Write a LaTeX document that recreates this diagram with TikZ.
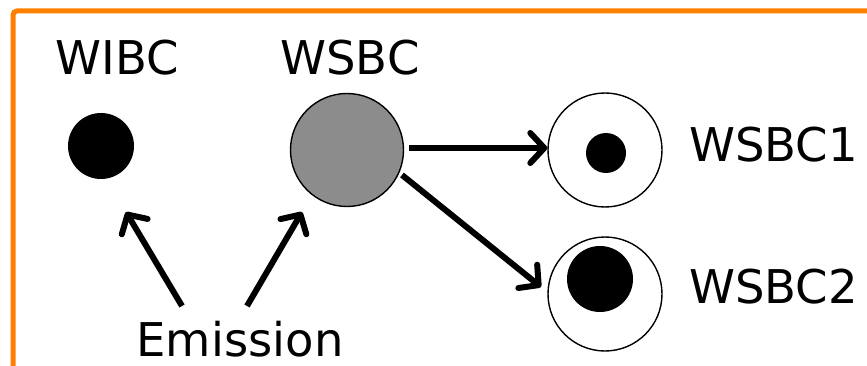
\documentclass[tikz,border=0pt]{standalone}
\usepackage{fontspec}
\setmainfont{DejaVu Sans}
\usetikzlibrary{arrows.meta}
\definecolor{frameorange}{RGB}{255,128,0}
\definecolor{cellgrey}{RGB}{140,140,140}
\begin{document}
\begin{tikzpicture}[x=1pt,y=-1pt,
  lbl/.style={inner sep=0pt,font=\fontsize{46.5}{56}\selectfont},
  cell/.style={circle,draw=black,line width=1.4pt,inner sep=0pt,minimum size=#1},
  dot/.style={circle,fill=black,inner sep=0pt,minimum size=#1},
  conn/.style={line width=6pt,-{Straight Barb[length=14pt,width=30pt,round]}}]
\useasboundingbox (0,0) rectangle (867,366);
\begin{scope}
\clip (0,0) rectangle (867,366);
\draw[frameorange,line width=5pt,rounded corners=4pt] (13,380) -- (13,11) -- (885,11);
\end{scope}
% labels
\node[lbl,anchor=base] (lwibc) at (117.5,75) {WIBC};
\node[lbl,anchor=base] (lwsbc) at (350,75) {WSBC};
\node[lbl,anchor=base west] (lc1) at (689,162) {WSBC1};
\node[lbl,anchor=base west] (lc2) at (689,303) {WSBC2};
\node[lbl,anchor=base] (em) at (240,356) {Emission};
% cells
\node[dot=66pt] (wibc) at (101,146) {};
\node[cell=113pt,fill=cellgrey] (wsbc) at (347,150) {};
\node[cell=114pt,fill=white] (c1) at (605,150) {};
\node[dot=40pt] (c1in) at (606,153) {};
\node[cell=114pt,fill=white] (c2) at (605,294) {};
\node[dot=66pt] (c2in) at (600,279) {};
% connector end points
\coordinate (e1s) at (182,306);
\coordinate (e1t) at (126,212);
\coordinate (e2s) at (247,306);
\coordinate (e2t) at (302,212);
\coordinate (a1s) at (409,148);
\coordinate (a2s) at (402,175);
\coordinate (a2t) at (541,287);
% connectors
\draw[conn] (e1s) -- (e1t);
\draw[conn] (e2s) -- (e2t);
\draw[conn] (a1s) -- (c1.west |- a1s);
\draw[conn] (a2s) -- (a2t);
\end{tikzpicture}
\end{document}
